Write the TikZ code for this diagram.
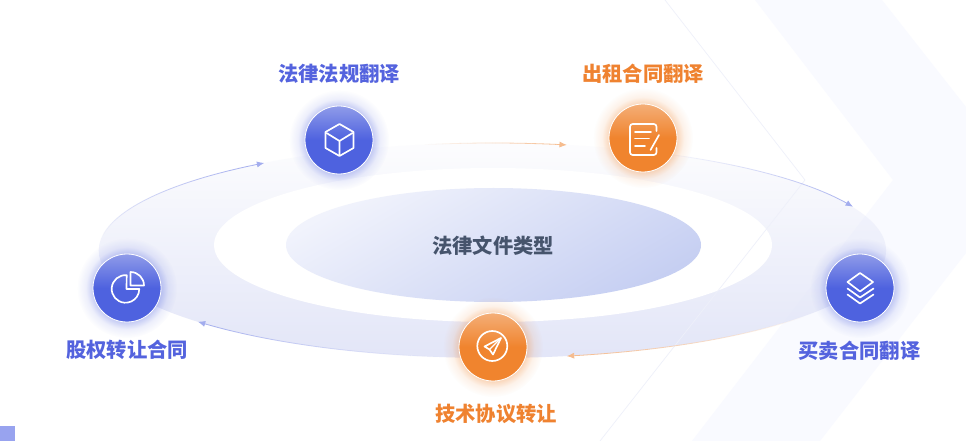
\documentclass[tikz,border=0pt]{standalone}
\usepackage{fontspec}
\newfontfamily\cjk{Noto Sans CJK SC}
\usetikzlibrary{fadings,arrows.meta}
\definecolor{blueT}{HTML}{8F9BE9}
\definecolor{blueM}{HTML}{4E62DF}
\definecolor{orangeT}{HTML}{F4AE77}
\definecolor{orangeM}{HTML}{F0842E}
\definecolor{blueL}{HTML}{5463DE}
\definecolor{orangeL}{HTML}{EF8230}
\definecolor{darkL}{HTML}{46546C}
\definecolor{chev}{HTML}{F9FAFF}
\definecolor{thinl}{HTML}{EEF0FA}
\definecolor{ringc}{HTML}{E3E6F8}
\definecolor{corner}{HTML}{98A3EF}
\definecolor{eggT}{HTML}{F1F3FC}
\definecolor{eggB}{HTML}{C6CFF2}
\definecolor{arrowB}{HTML}{A3ADEE}
\definecolor{arrowO}{HTML}{F6BC8E}
\pgfdeclareverticalshading{discb}{100bp}{color(0bp)=(blueM); color(50bp)=(blueM); color(75bp)=(blueT); color(100bp)=(blueT)}
\pgfdeclareverticalshading{disco}{100bp}{color(0bp)=(orangeM); color(50bp)=(orangeM); color(75bp)=(orangeT); color(100bp)=(orangeT)}
\pgfdeclareradialshading{glowsh}{\pgfpointorigin}{color(0bp)=(pgftransparent!68); color(17bp)=(pgftransparent!68); color(20.5bp)=(pgftransparent!90); color(25bp)=(pgftransparent!100); color(50bp)=(pgftransparent!100)}
\pgfdeclarefading{glowf}{\pgfuseshading{glowsh}}
\tikzfading[name=vf, top color=transparent!92, bottom color=transparent!0]
\tikzset{
  lab/.style={font=\cjk\bfseries\fontsize{15.2pt}{18pt}\selectfont, inner sep=0pt},
  discblue/.style={circle, minimum size=51pt, inner sep=0pt, draw=white, line width=0.6pt, shading=discb},
  discorange/.style={circle, minimum size=51pt, inner sep=0pt, draw=white, line width=0.6pt, shading=disco},
  ico/.style={draw=white, line width=1.25pt, line cap=round, line join=round},
  tip/.style={-{Latex[length=5.5pt,width=4.5pt]}, line width=0.6pt},
}
% start angle, end angle, colour, end-coordinate name
\newcommand{\fadearc}[4]{%
  \coordinate (#4) at ({493+394*cos(#2)},{250.5-107.5*sin(#2)});
  \foreach \i in {1,...,39}{%
    \pgfmathsetmacro{\aa}{#1+(#2-#1)*(\i-1)/40}%
    \pgfmathsetmacro{\ab}{#1+(#2-#1)*\i/40}%
    \pgfmathsetmacro{\op}{\i/40}%
    \draw[#3, line width=0.6pt, opacity=\op] ({493+394*cos(\aa)},{250.5-107.5*sin(\aa)}) -- ({493+394*cos(\ab)},{250.5-107.5*sin(\ab)});
  }
  \pgfmathsetmacro{\ab}{#1+(#2-#1)*39/40}%
  \draw[tip, #3] ({493+394*cos(\ab)},{250.5-107.5*sin(\ab)}) -- (#4);
}
\begin{document}
\begin{tikzpicture}[x=0.75pt,y=-0.75pt]
\useasboundingbox (0,0) rectangle (966,441);
\fill[white] (0,0) rectangle (966,441);
% background chevron
\fill[chev] (755,0) -- (893,180) -- (692,441) -- (820,441) -- (966,253) -- (966,107) -- (882,0) -- cycle;
\fill[corner] (0,426) rectangle (15,441);
% ellipses
\fill[ringc, path fading=vf] (493,250.5) ellipse [x radius=394, y radius=107.5];
\fill[white] (493,245) ellipse [x radius=279, y radius=77];
\draw[thinl, line width=0.5pt] (665,0) -- (805,180) -- (600,441);
\shade[top color=eggT, bottom color=eggB, shading angle=30] (493.5,245) ellipse [x radius=207.5, y radius=57];
% fading arrows
\fadearc{65}{24}{arrowB}{endR}
\fadearc{100}{79.2}{arrowO}{endT}
\fadearc{172}{125.5}{arrowB}{endL}
\fadearc{262}{221.5}{arrowB}{endBL}
\fadearc{322}{280.8}{arrowO}{endBR}
% glows
\coordinate (cLaw) at (339,140);
\coordinate (cRent) at (643,138);
\coordinate (cEquity) at (127,288);
\coordinate (cTech) at (493,347);
\coordinate (cTrade) at (860,288);
\fill[blueM, path fading=glowf] (cLaw) circle [radius=50];
\fill[orangeM, path fading=glowf] (cRent) circle [radius=50];
\fill[blueM, path fading=glowf] (cEquity) circle [radius=50];
\fill[orangeM, path fading=glowf] (cTech) circle [radius=50];
\fill[blueM, path fading=glowf] (cTrade) circle [radius=50];
% discs
\node[discblue] (law) at (cLaw) {};
\node[discorange] (rent) at (cRent) {};
\node[discblue] (equity) at (cEquity) {};
\node[discorange] (tech) at (cTech) {};
\node[discblue] (trade) at (cTrade) {};
% labels
\node[lab, text=darkL] (centre) at (493,245.5) {法律文件类型};
\node[lab, text=blueL] (l1) at (339,73.5) {法律法规翻译};
\node[lab, text=orangeL] (l2) at (643,73.5) {出租合同翻译};
\node[lab, text=blueL] (l3) at (127,349.5) {股权转让合同};
\node[lab, text=orangeL] (l4) at (496,413.5) {技术协议转让};
\node[lab, text=blueL] (l5) at (859.5,350.5) {买卖合同翻译};
% cube icon
\draw[ico] (339.5,124) -- (353.5,132) -- (353.5,148) -- (339.5,156) -- (325.5,148) -- (325.5,132) -- cycle;
\draw[ico] (326.5,133) -- (339.5,141) -- (352.5,133) (339.5,141) -- (339.5,155);
% document icon
\draw[ico, rounded corners=2pt] (656.5,131) -- (656.5,124) -- (630,124) -- (630,155) -- (656.5,155) -- (656.5,148);
\draw[ico] (635,132) -- (651,132) (635,138.5) -- (649,138.5) (635,146) -- (645,146);
\draw[ico] (659,135) -- (650.5,150);
% pie icon
\draw[ico] (126.7,275.2) arc[start angle=-85, end angle=-360, radius=13.8] -- (126.5,289) -- cycle;
\draw[ico] (130.5,285.5) -- (130.5,272) arc[start angle=-90, end angle=0, radius=13.5] -- cycle;
% paper plane icon
\draw[ico] (492.3,346) circle [radius=15];
\draw[ico] (501,338) -- (484.5,346.5) -- (489.5,349.5) -- (493,354.5) -- cycle;
\draw[ico, line width=1pt] (501,338) -- (489.5,349.5);
% layers icon
\draw[ico] (860,273) -- (873,282) -- (860,291.5) -- (847.5,282) -- cycle;
\draw[ico] (847.5,288.5) -- (860,297.5) -- (873.5,288.5);
\draw[ico] (847.5,294.5) -- (860,303.5) -- (873.5,294.5);
\end{tikzpicture}
\end{document}
